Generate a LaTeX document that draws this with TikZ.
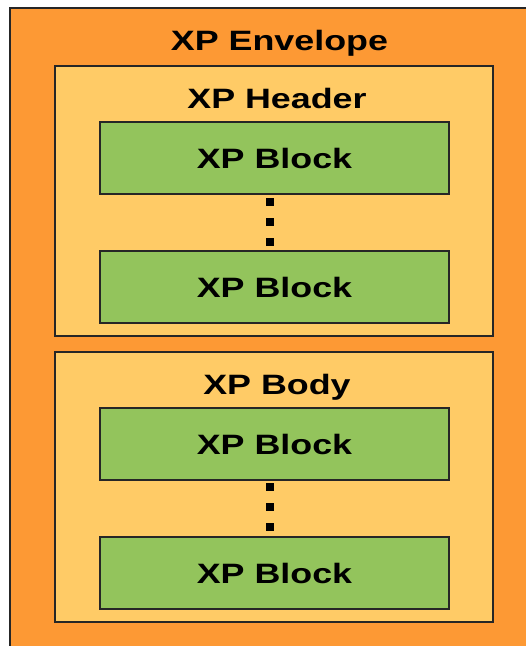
\documentclass[tikz,border=0pt]{standalone}
\usepackage{fontspec}
\setmainfont{Liberation Sans}[FakeStretch=1.28]
\definecolor{envorange}{RGB}{253,153,52}
\definecolor{boxyellow}{RGB}{255,203,102}
\definecolor{blockgreen}{RGB}{147,196,92}
\begin{document}
\begin{tikzpicture}[x=1pt,y=-1pt,
  box/.style={draw=black!85,line width=1.8pt,anchor=north west,inner sep=0pt,outer sep=0pt},
  envbox/.style={box,fill=envorange,minimum width=540pt,minimum height=660pt},
  secbox/.style={box,fill=boxyellow,minimum width=438pt,minimum height=270pt},
  blockbox/.style={box,fill=blockgreen,minimum width=349pt,minimum height=72pt},
  lbl/.style={font=\fontsize{28}{30}\selectfont\bfseries,inner sep=0pt},
  dotsq/.style={fill=black,minimum size=8pt,inner sep=0pt,draw=none}]
\useasboundingbox (0,0) rectangle (526,646);
\clip (0,0) rectangle (526,646);
\node[envbox] (env) at (10,8) {};
\node[lbl,anchor=base] (envlbl) at (279.5,50) {XP Envelope};
\node[secbox] (hdr) at (55,66) {};
\node[lbl,anchor=base] (hdrlbl) at (277,108) {XP Header};
\node[blockbox] (b1) at (100,122) {};
\node[lbl] (b1lbl) at (b1.center) {XP Block};
\node[dotsq] (d1) at (270,202) {};
\node[dotsq] (d2) at (270,222) {};
\node[dotsq] (d3) at (270,242) {};
\node[blockbox] (b2) at (100,251) {};
\node[lbl] (b2lbl) at (b2.center) {XP Block};
\node[secbox] (body) at (55,352) {};
\node[lbl,anchor=base] (bodylbl) at (277,394) {XP Body};
\node[blockbox] (b3) at (100,408) {};
\node[lbl] (b3lbl) at (b3.center) {XP Block};
\node[dotsq] (d4) at (270,487) {};
\node[dotsq] (d5) at (270,507) {};
\node[dotsq] (d6) at (270,527) {};
\node[blockbox] (b4) at (100,537) {};
\node[lbl] (b4lbl) at (b4.center) {XP Block};
\end{tikzpicture}
\end{document}
